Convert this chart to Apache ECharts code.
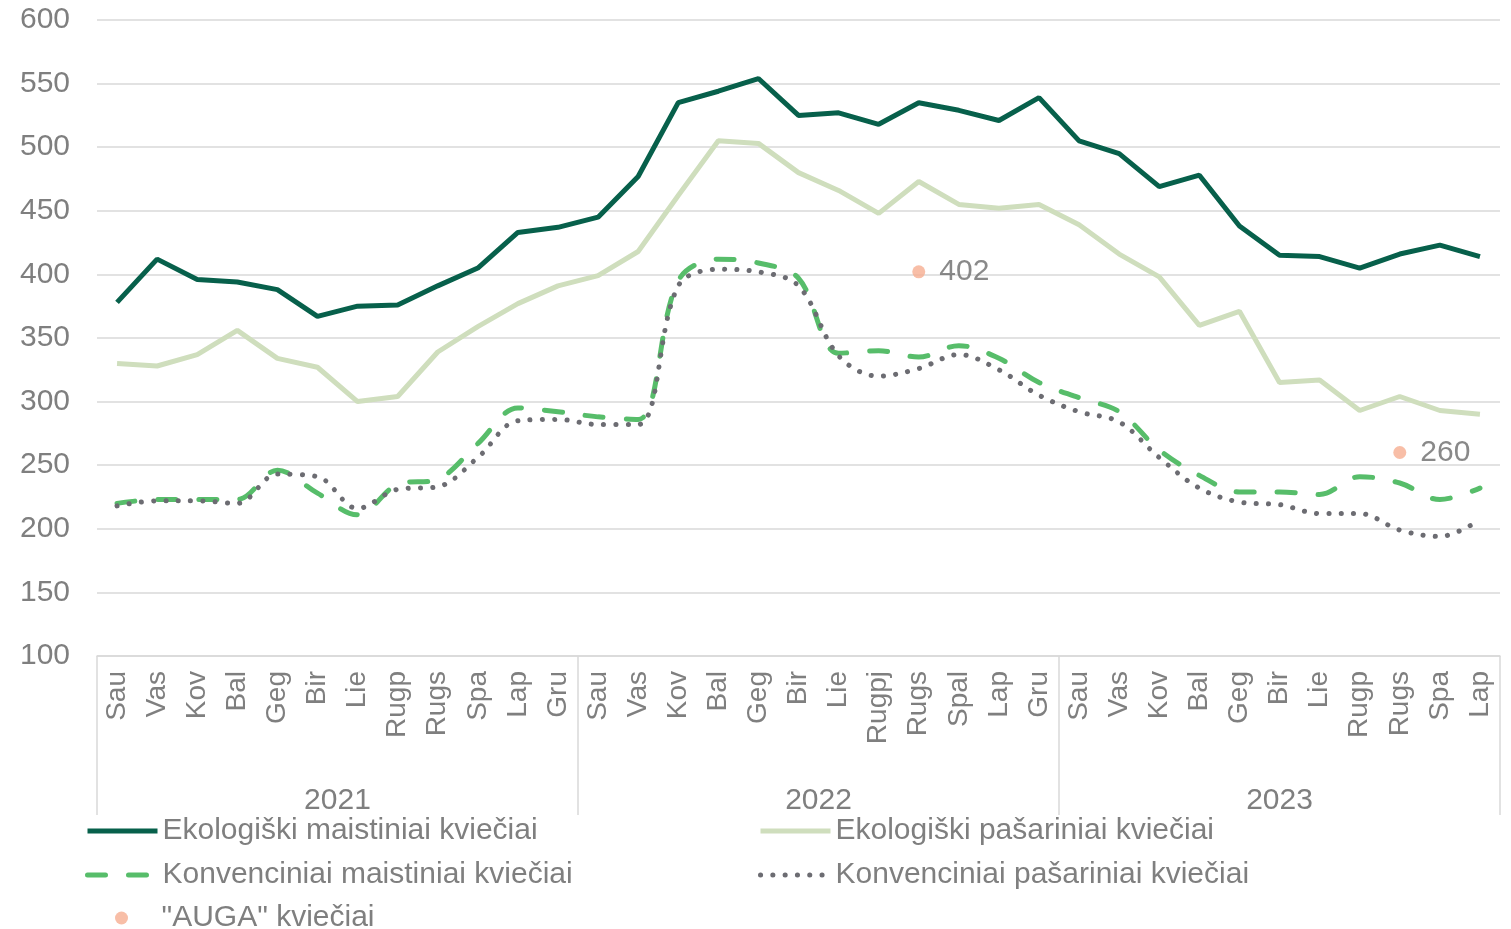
<!DOCTYPE html>
<html>
<head>
<meta charset="utf-8">
<title>Kviečių kainos</title>
<script src="https://cdn.jsdelivr.net/npm/echarts@6/dist/echarts.min.js"></script>
<style>
  html, body { margin: 0; padding: 0; background: #fff; }
  #chart { width: 1511px; height: 929px; }
</style>
</head>
<body>
<div id="chart"></div>
<script>
  // mėnesiai (2021 Sau - 2023 Lap)
  const months = [
    'Sau', 'Vas', 'Kov', 'Bal', 'Geg', 'Bir', 'Lie', 'Rugp', 'Rugs', 'Spa', 'Lap', 'Gru',
    'Sau', 'Vas', 'Kov', 'Bal', 'Geg', 'Bir', 'Lie', 'Rugpj', 'Rugs', 'Spal', 'Lap', 'Gru',
    'Sau', 'Vas', 'Kov', 'Bal', 'Geg', 'Bir', 'Lie', 'Rugp', 'Rugs', 'Spa', 'Lap'
  ];
  const years = ['2021', '2022', '2023'];
  const monthsPerYear = [12, 12, 11];

  const ekoMaist = [378, 412, 396, 394, 388, 367, 375, 376, 391, 405, 433, 437,
    445, 477, 535, 544, 554, 525, 527, 518, 535, 529, 521, 539,
    505, 495, 469, 478, 438, 415, 414, 405, 416, 423, 414];
  const ekoPasar = [330, 328, 337, 356, 334, 327, 300, 304, 339, 359, 377, 391,
    399, 418, 462, 505, 503, 480, 466, 448, 473, 455, 452, 455,
    439, 416, 398, 360, 371, 315, 317, 293, 304, 293, 290];
  const konvMaist = [220, 223, 223, 223, 246, 228, 211, 235, 239, 267, 295, 292,
    288, 286, 395, 412, 409, 397, 338, 340, 335, 344, 334, 315,
    303, 292, 262, 242, 229, 229, 227, 241, 236, 223, 232];
  const konvPasar = [218, 222, 222, 220, 243, 241, 216, 231, 233, 256, 285, 286,
    282, 282, 391, 404, 402, 391, 336, 320, 326, 337, 325, 305,
    292, 284, 256, 232, 221, 219, 212, 212, 199, 194, 207];

  // "AUGA" taškai
  const augaIndex = [20, 32];
  const augaValues = [402, 260];

  const names = [
    'Ekologiški maistiniai kviečiai',
    'Ekologiški pašariniai kviečiai',
    'Konvenciniai maistiniai kviečiai',
    'Konvenciniai pašariniai kviečiai',
    '"AUGA" kviečiai'
  ];

  // metų etiketės ir skirtukai
  const yearLabels = months.map(() => '');
  const yearStarts = [];
  let start = 0;
  years.forEach((y, i) => {
    yearStarts.push(start);
    const mid = start + (monthsPerYear[i] - 1) / 2;
    const idx = Math.floor(mid);
    yearLabels[idx] = (mid % 1 ? 'h:' : 'c:') + y;
    start += monthsPerYear[i];
  });

  const augaData = months.map(() => null);
  augaIndex.forEach((idx, i) => { augaData[idx] = augaValues[i]; });

  const textColor = '#7f7f7f';
  const font = 'Liberation Sans, Arial, sans-serif';
  const noDot = { opacity: 0 };

  const myChart = echarts.init(document.getElementById('chart'));

  const legendBase = {
    top: 816,
    padding: 0,
    orient: 'vertical',
    itemWidth: 70,
    itemHeight: 13,
    itemGap: 14,
    lineStyle: { width: 5 },
    textStyle: { fontSize: 30, color: textColor, fontFamily: font }
  };

  const option = {
    animation: false,
    textStyle: { fontFamily: font },
    grid: { left: 97, right: 11, top: 20, bottom: 273 },
    legend: [
      Object.assign({}, legendBase, {
        left: 85,
        data: [
          { name: names[0], itemStyle: noDot },
          { name: names[2], itemStyle: noDot }
        ]
      }),
      Object.assign({}, legendBase, {
        left: 758,
        data: [
          { name: names[1], itemStyle: noDot },
          { name: names[3], itemStyle: noDot }
        ]
      }),
      Object.assign({}, legendBase, {
        left: 115,
        top: 903,
        data: [names[4]]
      })
    ],
    xAxis: [
      {
        type: 'category',
        data: months,
        position: 'bottom',
        axisLine: { lineStyle: { color: '#d9d9d9', width: 1.5 } },
        axisTick: { show: false },
        axisLabel: {
          interval: 0,
          rotate: 90,
          margin: 15,
          fontSize: 28,
          color: textColor,
          fontFamily: font
        }
      },
      {
        type: 'category',
        data: yearLabels,
        position: 'bottom',
        axisLine: { show: false },
        axisTick: {
          show: true,
          length: 159,
          interval: function (index) { return yearStarts.indexOf(index) >= 0; },
          lineStyle: { color: '#d9d9d9', width: 1.5 }
        },
        axisLabel: {
          interval: 0,
          margin: 130,
          formatter: function (v) {
            if (!v) return '';
            const kind = v.slice(0, 1);
            return '{' + kind + '|' + v.slice(2) + '}';
          },
          rich: {
            h: { padding: [0, 0, 0, 40], fontSize: 30, color: textColor, fontFamily: font },
            c: { fontSize: 30, color: textColor, fontFamily: font }
          }
        }
      }
    ],
    yAxis: {
      type: 'value',
      min: 100,
      max: 600,
      interval: 50,
      axisLine: { show: false },
      axisTick: { show: false },
      splitLine: { lineStyle: { color: '#d9d9d9', width: 1.5 } },
      axisLabel: { fontSize: 30, color: textColor, margin: 27, fontFamily: font }
    },
    series: [
      {
        name: names[0],
        type: 'line',
        data: ekoMaist,
        symbol: 'none',
        lineStyle: { color: '#07604b', width: 5 },
        itemStyle: { color: '#07604b' }
      },
      {
        name: names[1],
        type: 'line',
        data: ekoPasar,
        symbol: 'none',
        lineStyle: { color: '#cfdebd', width: 5 },
        itemStyle: { color: '#cfdebd' }
      },
      {
        name: names[2],
        type: 'line',
        data: konvMaist,
        symbol: 'none',
        smooth: 0.35,
        lineStyle: { color: '#57bd6a', width: 5, type: [18, 23], cap: 'round' },
        itemStyle: { color: '#57bd6a' }
      },
      {
        name: names[3],
        type: 'line',
        data: konvPasar,
        symbol: 'none',
        smooth: 0.35,
        lineStyle: { color: '#6c6c72', width: 5, type: [0.1, 12.2], cap: 'round' },
        itemStyle: { color: '#6c6c72' }
      },
      {
        name: names[4],
        type: 'scatter',
        data: augaData,
        symbol: 'circle',
        symbolSize: 13,
        itemStyle: { color: '#f6ae91' },
        label: {
          show: true,
          position: 'right',
          distance: 14,
          fontSize: 30,
          color: '#6b6b6b',
          fontFamily: font
        }
      }
    ]
  };

  myChart.setOption(option);
</script>
</body>
</html>
